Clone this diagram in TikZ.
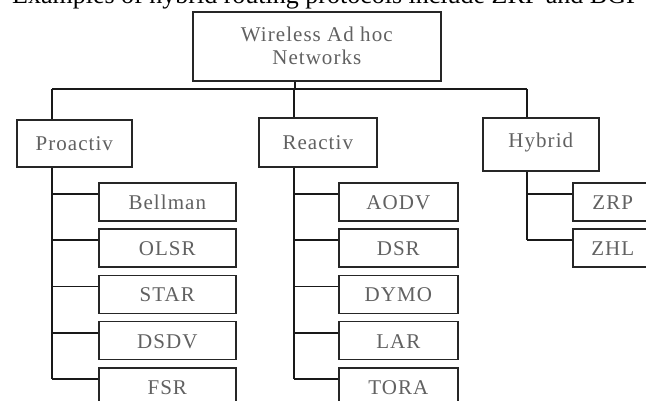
\documentclass[tikz,border=0pt]{standalone}
\usepackage{fontspec}
\setmainfont{Liberation Serif}
\usetikzlibrary{calc}
\begin{document}
\begin{tikzpicture}[x=1pt,y=-1pt,
  box/.style={draw=black!85, line width=1.6pt, fill=white, inner sep=0pt, anchor=north west,
    text=black!62, font=\fontsize{21}{23}\selectfont\addfontfeature{LetterSpace=5}},
  leaf/.style={box, minimum height=38pt, text height=15pt, text depth=0pt},
  conn/.style={draw=black!90, line width=1.6pt},
 ]
\useasboundingbox (0,0) rectangle (646,401);
\fill[white] (0,0) rectangle (646,401);
\clip (0,0) rectangle (646,401);

\node[anchor=base west, inner sep=0pt, font=\fontsize{26}{26}\selectfont] (title) at (12,4)
  {Examples of hybrid routing protocols include ZRP and BGP};

\node[box, minimum width=248pt, minimum height=69pt, align=center] (root) at (192,11)
  {Wireless Ad hoc\\Networks};

\node[box, minimum width=115pt, minimum height=47pt] (pro) at (16,119) {Proactiv};
\node[box, minimum width=118pt, minimum height=49pt] (rea) at (258,117) {Reactiv};
\node[box, minimum width=116pt, minimum height=53pt, text height=12pt, text depth=6pt] (hyb) at (482,117) {Hybrid};

\coordinate (stem) at (295,0);
\coordinate (bus) at (0,89);
\coordinate (pt) at (52,0);
\coordinate (rt) at (294,0);
\coordinate (ht) at (527,0);

\draw[conn] (root.south -| stem) -- (bus -| stem);
\draw[conn] (bus -| pt) -- (bus -| ht);
\draw[conn] (bus -| pt) -- (pro.north -| pt);
\draw[conn] (bus -| rt) -- (rea.north -| rt);
\draw[conn] (bus -| ht) -- (hyb.north -| ht);

\foreach \t [count=\i] in {Bellman,OLSR,STAR,DSDV,FSR} {
  \node[leaf, minimum width=137pt] (p\i) at (98,{182+46.25*(\i-1)}) {\t};
  \path (p\i.north west) ++(0,12) coordinate (pb\i);
  \draw[conn] (pb\i) -- (pb\i -| pt);
}
\draw[conn] (pro.south -| pt) -- (pb5 -| pt);

\foreach \t [count=\i] in {AODV,DSR,DYMO,LAR,TORA} {
  \node[leaf, minimum width=119pt] (r\i) at (338,{182+46.25*(\i-1)}) {\t};
  \path (r\i.north west) ++(0,12) coordinate (rb\i);
  \draw[conn] (rb\i) -- (rb\i -| rt);
}
\draw[conn] (rea.south -| rt) -- (rb5 -| rt);

\foreach \t [count=\i] in {ZRP,ZHL} {
  \node[leaf, minimum width=80pt] (h\i) at (572,{182+46*(\i-1)}) {\t};
  \path (h\i.north west) ++(0,12) coordinate (hb\i);
  \draw[conn] (hb\i) -- (hb\i -| ht);
}
\draw[conn] (hyb.south -| ht) -- (hb2 -| ht);
\end{tikzpicture}
\end{document}
